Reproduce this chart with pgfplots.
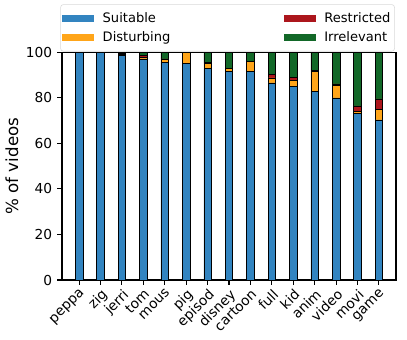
\documentclass[border=0pt]{standalone}
\usepackage{fontspec}
\setmainfont{DejaVu Sans}
\usepackage{pgfplots}
\usepackage{pgfplotstable}
\pgfplotsset{compat=1.18}

\definecolor{suit}{RGB}{50,132,192}
\definecolor{dist}{RGB}{255,165,25}
\definecolor{restr}{RGB}{172,22,28}
\definecolor{irr}{RGB}{18,104,40}

\newcommand\tenbp{\fontsize{9.9bp}{12bp}\selectfont}
\newcommand\legbp{\fontsize{9.4bp}{11bp}\selectfont}
\newcommand\twelvebp{\fontsize{12bp}{14bp}\selectfont}

\pgfplotsset{myleg/.style={legend image code/.code={\fill[##1,draw=none,sharp corners] (0bp,-2.4bp) rectangle (23bp,2.4bp);}}}

% share of videos per search term (percent)
\pgfplotstableread{
name    suit dist restr irr
peppa   100  0    0    0
zig     100  0    0    0
jerri   98.6 0.4  0.6  0.4
tom     97.1 0.6  1.0  1.3
mous    95.6 1.3  0.2  2.9
pig     95.2 4.8  0    0
episod  92.8 2.2  0.6  4.4
disney  91.7 1.1  0.2  7.0
cartoon 91.5 4.5  0    4.0
full    86.5 2.2  1.5  9.8
kid     84.9 2.8  1.4  10.9
anim    82.9 8.6  0.4  8.1
video   80.0 5.5  0.6  13.9
movi    73.1 1.0  2.3  23.6
game    70.3 4.5  4.7  20.5
}\data

\begin{document}
\tenbp
\begin{tikzpicture}
\begin{axis}[
    scale only axis,
    width=240.5bp, height=164bp,
    ybar stacked, bar width=0.35,
    xmin=-0.8, xmax=14.8, ymin=0, ymax=100,
    xtick=data,
    xticklabels from table={\data}{name},
    ytick={0,20,40,60,80,100},
    yticklabels={0,20,40,60,80,100},
    tick pos=left, tick align=outside,
    major tick length=3.5bp,
    every tick/.style={black, line width=0.8bp},
    axis line style={line width=0.8bp},
    every tick label/.append style={font=\tenbp},
    xticklabel style={rotate=45, anchor=north east, inner sep=1.5bp},
    ylabel={\% of videos},
    ylabel style={font=\twelvebp, at={(axis description cs:-0.15,0.5)}, anchor=center},
    transpose legend,
    legend columns=2,
    legend cell align=left,
    legend style={at={(axis description cs:-0.004,1)}, yshift=0.7bp, anchor=south west,
        outer sep=0pt, draw=black!15, rounded corners=2bp, inner xsep=1bp, inner ysep=3.7bp,
        font=\legbp, nodes={font=\legbp}, row sep=1bp,
        /tikz/every odd column/.append style={column sep=4.3bp},
        /tikz/every even column/.append style={column sep=79.5bp}},
]
\addplot[fill=suit, draw=black, line width=0.4bp, myleg] table[x expr=\coordindex, y=suit]{\data};
\addlegendentry{Suitable}
\addplot[fill=dist, draw=black, line width=0.4bp, myleg] table[x expr=\coordindex, y=dist]{\data};
\addlegendentry{Disturbing}
\addplot[fill=restr, draw=black, line width=0.4bp, myleg] table[x expr=\coordindex, y=restr]{\data};
\addlegendentry{Restricted}
\addplot[fill=irr, draw=black, line width=0.4bp, myleg] table[x expr=\coordindex, y=irr]{\data};
\addlegendentry{Irrelevant}
\end{axis}
\pgfresetboundingbox
\path[use as bounding box] (-44.6bp,-42.5bp) rectangle (248.4bp,201.6bp);
\end{tikzpicture}
\end{document}
